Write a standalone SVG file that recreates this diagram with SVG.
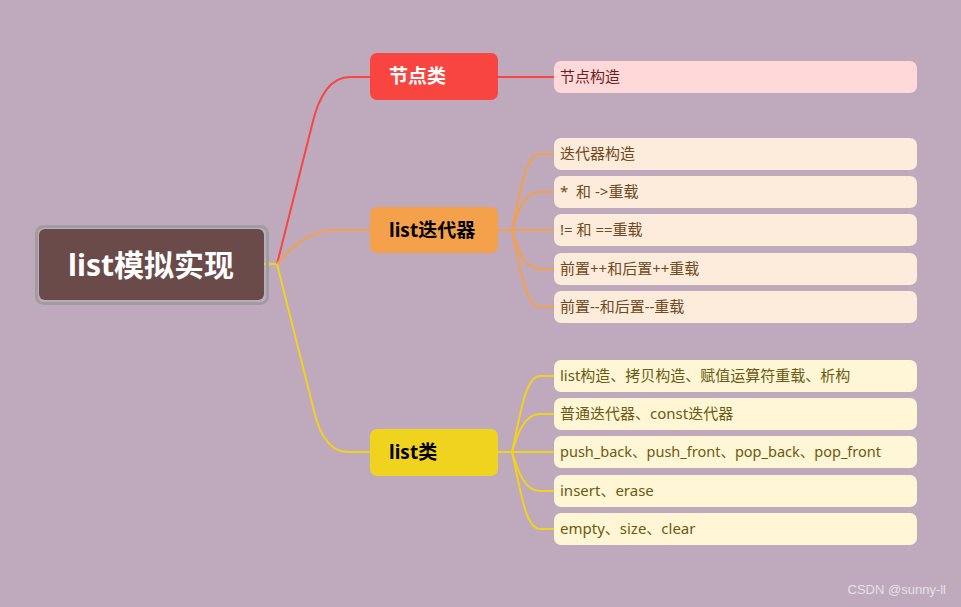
<svg xmlns="http://www.w3.org/2000/svg" width="961" height="607" viewBox="0 0 961 607">
<style>
.l1{font-family:"Noto Sans","Noto Sans CJK SC",sans-serif;font-weight:bold;font-size:19px}
.lf{font-family:"Noto Sans","Noto Sans CJK SC",sans-serif;font-size:15px}
.c{fill:none;stroke-width:2}
</style>
<rect width="961" height="607" fill="#BFA9BD"/>
<g id="connectors">
<path class="c" stroke="#F0D31F" d="M264,264 L277,264"/>
<path class="c" stroke="#F84540" d="M277,264 L312,125 Q323,77 350,77 L370,77"/>
<path class="c" stroke="#F5A04A" d="M277,264 Q305,230 335,230 L370,230"/>
<path class="c" stroke="#F0D31F" d="M277,264 L315,415 Q325,452 348,452 L370,452"/>
<path class="c" stroke="#F84540" d="M498,77 L554,77"/>
<g stroke="#F5A04A" class="c">
<path d="M498,230 L512,230"/>
<path d="M512,230 C520,195 525,154 540,154 L554,154"/>
<path d="M512,230 C518,210 525,192 540,192 L554,192"/>
<path d="M512,230 L554,230"/>
<path d="M512,230 C518,250 525,269 540,269 L554,269"/>
<path d="M512,230 C520,265 525,307 540,307 L554,307"/>
</g>
<g stroke="#F0D31F" class="c">
<path d="M498,452 L512,452"/>
<path d="M512,452 C520,417 525,376 540,376 L554,376"/>
<path d="M512,452 C518,432 525,414 540,414 L554,414"/>
<path d="M512,452 L554,452"/>
<path d="M512,452 C518,472 525,491 540,491 L554,491"/>
<path d="M512,452 C520,487 525,529 540,529 L554,529"/>
</g>
</g>
<g id="root">
<rect x="36.5" y="226.5" width="231" height="77" rx="7" fill="none" stroke="#9E9E9E" stroke-width="3"/>
<rect x="39" y="229" width="225" height="71" rx="6" fill="#6B4A4A"/>
<text x="151" y="276" text-anchor="middle" font-family="Noto Sans,Noto Sans CJK SC,sans-serif" font-weight="bold" font-size="30" fill="#FFFFFF">list模拟实现</text>
</g>
<g id="n-node">
<rect x="370" y="53" width="128" height="47" rx="7" fill="#F84540"/>
<text class="l1" x="389" y="83" fill="#FFFFFF">节点类</text>
</g>
<g id="n-iter">
<rect x="370" y="207" width="128" height="46" rx="7" fill="#F5A04A"/>
<text class="l1" x="389" y="237" fill="#000000">list迭代器</text>
</g>
<g id="n-list">
<rect x="370" y="429" width="128" height="47" rx="7" fill="#F0D31F"/>
<text class="l1" x="389" y="459" fill="#000000">list类</text>
</g>
<g id="leaf-node1">
<rect x="554" y="61" width="363" height="32" rx="7" fill="#FFD9D9"/>
<text class="lf" x="560" y="82" fill="#6B1F1F">节点构造</text>
</g>
<g fill="#FDEBDB">
<g id="leaf-iter1"><rect x="554" y="138" width="363" height="32" rx="7"/><text class="lf" x="560" y="159" fill="#6E4A22">迭代器构造</text></g>
<g id="leaf-iter2"><rect x="554" y="176" width="363" height="32" rx="7"/><text class="lf" x="560" y="197" fill="#6E4A22" xml:space="preserve">*  和 -&gt;重载</text></g>
<g id="leaf-iter3"><rect x="554" y="214" width="363" height="32" rx="7"/><text class="lf" x="560" y="235" fill="#6E4A22">!= 和 ==重载</text></g>
<g id="leaf-iter4"><rect x="554" y="253" width="363" height="32" rx="7"/><text class="lf" x="560" y="274" fill="#6E4A22">前置++和后置++重载</text></g>
<g id="leaf-iter5"><rect x="554" y="291" width="363" height="32" rx="7"/><text class="lf" x="560" y="312" fill="#6E4A22">前置--和后置--重载</text></g>
</g>
<g fill="#FEF6D5">
<g id="leaf-list1"><rect x="554" y="360" width="363" height="32" rx="7"/><text class="lf" x="560" y="381" fill="#6B5A14">list构造、拷贝构造、赋值运算符重载、析构</text></g>
<g id="leaf-list2"><rect x="554" y="398" width="363" height="32" rx="7"/><text class="lf" x="560" y="419" fill="#6B5A14">普通迭代器、const迭代器</text></g>
<g id="leaf-list3"><rect x="554" y="436" width="363" height="32" rx="7"/><text class="lf" x="560" y="457" fill="#6B5A14" textLength="321" lengthAdjust="spacingAndGlyphs">push_back、push_front、pop_back、pop_front</text></g>
<g id="leaf-list4"><rect x="554" y="475" width="363" height="32" rx="7"/><text class="lf" x="560" y="496" fill="#6B5A14">insert、erase</text></g>
<g id="leaf-list5"><rect x="554" y="513" width="363" height="32" rx="7"/><text class="lf" x="560" y="534" fill="#6B5A14">empty、size、clear</text></g>
</g>
<text x="946" y="594" text-anchor="end" font-family="Liberation Sans,sans-serif" font-size="13" fill="#E6E0E6">CSDN @sunny-ll</text>
</svg>
